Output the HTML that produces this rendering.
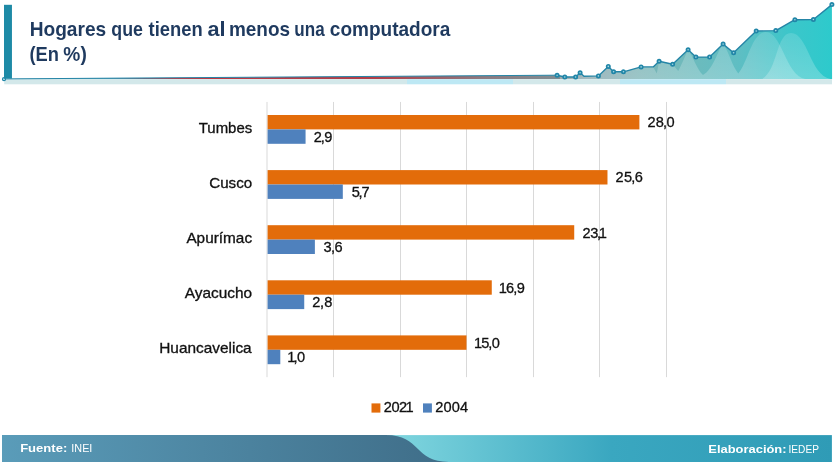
<!DOCTYPE html>
<html lang="es"><head><meta charset="utf-8"><title>Hogares que tienen al menos una computadora</title>
<style>
html,body{margin:0;padding:0;background:#fff;}
body{width:835px;height:465px;overflow:hidden;position:relative;font-family:"Liberation Sans",sans-serif;}
svg{position:absolute;left:0;top:0;display:block;}
svg text{font-family:"Liberation Sans",sans-serif;}
.t{font-weight:bold;font-size:20.4px;fill:#1f3a5f;}
.c{font-size:14.3px;fill:#111;stroke:#111;stroke-width:0.3px;}
.v{font-size:14.6px;fill:#111;stroke:#111;stroke-width:0.3px;}
.f{font-size:11.6px;fill:#fff;}
.fb{font-size:11.6px;fill:#fff;font-weight:bold;}
</style></head><body>
<svg width="835" height="465" viewBox="0 0 835 465">
<defs>
<linearGradient id="ga" x1="0" y1="0" x2="835" y2="0" gradientUnits="userSpaceOnUse">
<stop offset="0" stop-color="#3a8ca8"/>
<stop offset="0.13" stop-color="#3a8ca8"/>
<stop offset="0.21" stop-color="#c23540"/>
<stop offset="0.45" stop-color="#b03f49"/>
<stop offset="0.58" stop-color="#8d7a80"/>
<stop offset="0.67" stop-color="#7f8c92"/>
<stop offset="0.70" stop-color="#87a5ac"/>
<stop offset="0.725" stop-color="#82a8ae"/>
<stop offset="0.766" stop-color="#7cb4b6"/>
<stop offset="0.82" stop-color="#6fbabc"/>
<stop offset="0.884" stop-color="#5fbec3"/>
<stop offset="0.946" stop-color="#3cc6ca"/>
<stop offset="1" stop-color="#2ccacc"/>
</linearGradient>
<linearGradient id="fl" x1="2" y1="0" x2="450" y2="0" gradientUnits="userSpaceOnUse">
<stop offset="0" stop-color="#5a9cb9"/>
<stop offset="1" stop-color="#3f6d88"/>
</linearGradient>
<linearGradient id="fr" x1="390" y1="0" x2="833" y2="0" gradientUnits="userSpaceOnUse">
<stop offset="0" stop-color="#80d6df"/>
<stop offset="0.5" stop-color="#3aa7c0"/>
<stop offset="1" stop-color="#2f9bb6"/>
</linearGradient>
<linearGradient id="bl" x1="0" y1="30" x2="0" y2="79" gradientUnits="userSpaceOnUse">
<stop offset="0" stop-color="#fff" stop-opacity="0.13"/>
<stop offset="1" stop-color="#fff" stop-opacity="0.24"/>
</linearGradient>
</defs>
<rect x="4.2" y="79.1" width="402.8" height="5.2" fill="#d3e8ea"/>
<rect x="407" y="79.1" width="106" height="5.2" fill="#bde8f4"/>
<rect x="513" y="79.1" width="107" height="5.2" fill="#d3e8ea"/>
<rect x="620" y="79.1" width="106" height="5.2" fill="#bde8f4"/>
<rect x="726" y="79.1" width="106" height="5.2" fill="#d3e8ea"/>
<path d="M4 78.9 L557.1 75.2 L564.8 77 L575.6 77 L580.1 72.7 L584 76.3 L598.4 75.9 L608.3 66.4 L613.6 71.8 L623.5 71.8 L641.1 66.9 L653.2 66.9 L659.1 61.2 L672.6 64.2 L688.1 49.7 L695.9 57.1 L709.6 57.1 L723.1 44.1 L733.6 52.8 L756.2 31 L775.8 30.6 L794.9 19.7 L813.4 19.5 L831.9 4.6 L832.1 79.1 L4 79.1 Z" fill="url(#ga)"/>
<clipPath id="ca"><path d="M4 78.9 L557.1 75.2 L564.8 77 L575.6 77 L580.1 72.7 L584 76.3 L598.4 75.9 L608.3 66.4 L613.6 71.8 L623.5 71.8 L641.1 66.9 L653.2 66.9 L659.1 61.2 L672.6 64.2 L688.1 49.7 L695.9 57.1 L709.6 57.1 L723.1 44.1 L733.6 52.8 L756.2 31 L775.8 30.6 L794.9 19.7 L813.4 19.5 L831.9 4.6 L832.1 79.1 L4 79.1 Z"/></clipPath>
<g clip-path="url(#ca)">
<path d="M560 79.1 L560 40 L653.2 40 L653.2 66.9 L656.8 73.5 L659.1 61.2 L659.1 40 L672.6 40 L672.6 64.2 L678.2 71 C681 66 685 56 688.1 49.7 C693 56 697 70 703 75 C713 70 718 50 723.1 44.1 C729 52 732 66 738.3 73.5 C748 62 752 32 766 32 C782 32 786 77 806 79.1 Z" fill="url(#bl)"/>
<path d="M762 79.1 C778 70 776 33 791 33 C808 33 810 76 831 79.1 Z" fill="url(#bl)"/>
</g>
<path d="M4 78.9 L557.1 75.2" fill="none" stroke="#2585a6" stroke-width="1"/>
<path d="M557.1 75.2 L564.8 77 L575.6 77 L580.1 72.7 L584 76.3 L598.4 75.9 L608.3 66.4 L613.6 71.8 L623.5 71.8 L641.1 66.9 L653.2 66.9 L659.1 61.2 L672.6 64.2 L688.1 49.7 L695.9 57.1 L709.6 57.1 L723.1 44.1 L733.6 52.8 L756.2 31 L775.8 30.6 L794.9 19.7 L813.4 19.5 L831.9 4.6" fill="none" stroke="#2585a6" stroke-width="1.4" stroke-linejoin="round"/>
<circle cx="4" cy="79.2" r="1.5" fill="#bfe4ec" stroke="#2186a8" stroke-width="1.2"/>
<circle cx="557.1" cy="75.2" r="1.65" fill="#a9d9e4" stroke="#2186a8" stroke-width="1.7"/>
<circle cx="564.8" cy="77" r="1.65" fill="#a9d9e4" stroke="#2186a8" stroke-width="1.7"/>
<circle cx="575.6" cy="77" r="1.65" fill="#a9d9e4" stroke="#2186a8" stroke-width="1.7"/>
<circle cx="580.1" cy="72.7" r="1.65" fill="#a9d9e4" stroke="#2186a8" stroke-width="1.7"/>
<circle cx="598.4" cy="75.9" r="1.65" fill="#a9d9e4" stroke="#2186a8" stroke-width="1.7"/>
<circle cx="608.3" cy="66.4" r="1.65" fill="#a9d9e4" stroke="#2186a8" stroke-width="1.7"/>
<circle cx="613.6" cy="71.8" r="1.65" fill="#a9d9e4" stroke="#2186a8" stroke-width="1.7"/>
<circle cx="623.5" cy="71.8" r="1.65" fill="#a9d9e4" stroke="#2186a8" stroke-width="1.7"/>
<circle cx="641.1" cy="66.9" r="1.65" fill="#a9d9e4" stroke="#2186a8" stroke-width="1.7"/>
<circle cx="659.1" cy="61.2" r="1.65" fill="#a9d9e4" stroke="#2186a8" stroke-width="1.7"/>
<circle cx="672.6" cy="64.2" r="1.65" fill="#a9d9e4" stroke="#2186a8" stroke-width="1.7"/>
<circle cx="688.1" cy="49.7" r="1.65" fill="#a9d9e4" stroke="#2186a8" stroke-width="1.7"/>
<circle cx="695.9" cy="57.1" r="1.65" fill="#a9d9e4" stroke="#2186a8" stroke-width="1.7"/>
<circle cx="709.6" cy="57.1" r="1.65" fill="#a9d9e4" stroke="#2186a8" stroke-width="1.7"/>
<circle cx="723.1" cy="44.1" r="1.65" fill="#a9d9e4" stroke="#2186a8" stroke-width="1.7"/>
<circle cx="733.6" cy="52.8" r="1.65" fill="#a9d9e4" stroke="#2186a8" stroke-width="1.7"/>
<circle cx="756.2" cy="31" r="1.65" fill="#a9d9e4" stroke="#2186a8" stroke-width="1.7"/>
<circle cx="775.8" cy="30.6" r="1.65" fill="#a9d9e4" stroke="#2186a8" stroke-width="1.7"/>
<circle cx="794.9" cy="19.7" r="1.65" fill="#a9d9e4" stroke="#2186a8" stroke-width="1.7"/>
<circle cx="813.4" cy="19.5" r="1.65" fill="#a9d9e4" stroke="#2186a8" stroke-width="1.7"/>
<circle cx="831.9" cy="4.6" r="1.65" fill="#a9d9e4" stroke="#2186a8" stroke-width="1.7"/>
<rect x="4" y="4.8" width="7.95" height="73.8" fill="#1e8aa6"/>
<text class="t" y="36.30"><tspan x="29.63" textLength="76.56" lengthAdjust="spacingAndGlyphs">Hogares</tspan> <tspan x="111.35" textLength="31.62" lengthAdjust="spacingAndGlyphs">que</tspan> <tspan x="148.57" textLength="54.09" lengthAdjust="spacingAndGlyphs">tienen</tspan> <tspan x="207.57" textLength="18.04" lengthAdjust="spacingAndGlyphs">al</tspan> <tspan x="228.94" textLength="61.18" lengthAdjust="spacingAndGlyphs">menos</tspan> <tspan x="294.35" textLength="30.35" lengthAdjust="spacingAndGlyphs">una</tspan> <tspan x="329.80" textLength="120.51" lengthAdjust="spacingAndGlyphs">computadora</tspan></text>
<text class="t" y="61.20"><tspan x="29.50" textLength="29.52" lengthAdjust="spacingAndGlyphs">(En</tspan> <tspan x="63.33" textLength="23.44" lengthAdjust="spacingAndGlyphs">%)</tspan></text>
<rect x="266.5" y="101.95" width="1" height="275.2" fill="#d9d9d9"/>
<rect x="333" y="101.95" width="1" height="275.2" fill="#d9d9d9"/>
<rect x="400" y="101.95" width="1" height="275.2" fill="#d9d9d9"/>
<rect x="466" y="101.95" width="1" height="275.2" fill="#d9d9d9"/>
<rect x="533" y="101.95" width="1" height="275.2" fill="#d9d9d9"/>
<rect x="599" y="101.95" width="1" height="275.2" fill="#d9d9d9"/>
<rect x="666" y="101.95" width="1" height="275.2" fill="#d9d9d9"/>
<rect x="267.6" y="115.00" width="371.8" height="14.4" fill="#e36c0a"/>
<rect x="267.6" y="129.40" width="37.97" height="14.4" fill="#4f81bd"/>
<text class="c" x="198.74" y="133.00" textLength="53.52" lengthAdjust="spacingAndGlyphs">Tumbes</text>
<text class="v" x="647.45" y="127.30" dx="0.00 0.10 -0.90 -0.50">28,0</text>
<text class="v" x="313.75" y="141.80" dx="0.00 -1.07 -0.67">2,9</text>
<rect x="267.6" y="170.10" width="339.88" height="14.4" fill="#e36c0a"/>
<rect x="267.6" y="184.50" width="75.21" height="14.4" fill="#4f81bd"/>
<text class="c" x="209.21" y="188.10" textLength="42.96" lengthAdjust="spacingAndGlyphs">Cusco</text>
<text class="v" x="615.55" y="182.40" dx="0.00 0.20 -0.80 -0.40">25,6</text>
<text class="v" x="351.75" y="196.90" dx="0.00 -1.43 -1.03">5,7</text>
<rect x="267.6" y="225.20" width="306.63" height="14.4" fill="#e36c0a"/>
<rect x="267.6" y="239.60" width="47.28" height="14.4" fill="#4f81bd"/>
<text class="c" x="186.40" y="243.20" textLength="65.67" lengthAdjust="spacingAndGlyphs">Apurímac</text>
<text class="v" x="582.45" y="237.50" dx="0.00 -0.40 -1.40 -2.30">23,1</text>
<text class="v" x="323.50" y="252.00" dx="0.00 -0.75 -0.35">3,6</text>
<rect x="267.6" y="280.30" width="224.17" height="14.4" fill="#e36c0a"/>
<rect x="267.6" y="294.70" width="36.64" height="14.4" fill="#4f81bd"/>
<text class="c" x="184.80" y="298.30" textLength="67.37" lengthAdjust="spacingAndGlyphs">Ayacucho</text>
<text class="v" x="498.85" y="292.60" dx="0.00 -0.90 -1.00 -0.60">16,9</text>
<text class="v" x="312.15" y="307.10" dx="0.00 -0.27 0.13">2,8</text>
<rect x="267.6" y="335.40" width="198.9" height="14.4" fill="#e36c0a"/>
<rect x="267.6" y="349.80" width="12.7" height="14.4" fill="#4f81bd"/>
<text class="c" x="159.25" y="353.40" textLength="92.45" lengthAdjust="spacingAndGlyphs">Huancavelica</text>
<text class="v" x="473.95" y="347.70" dx="0.00 -0.90 -1.00 -0.60">15,0</text>
<text class="v" x="287.35" y="362.20" dx="0.00 -1.90 -0.60">1,0</text>
<rect x="371.5" y="403.4" width="8.9" height="9.2" fill="#e36c0a"/>
<text class="v" x="383.65" y="412.00" dx="0.00 -0.40 -0.40 -1.70">2021</text>
<rect x="423" y="403.4" width="8.9" height="9.2" fill="#4f81bd"/>
<text class="v" x="435.15" y="412.00" dx="0.00 0.12 0.12 0.12">2004</text>
<rect x="388" y="435.1" width="443.9" height="26.9" fill="url(#fr)"/>
<path d="M2 435.1 L386 435.1 C421 435.1 414 462 449 462 L2 462 Z" fill="url(#fl)"/>
<text class="fb" x="20.16" y="451.70" textLength="47.11" lengthAdjust="spacingAndGlyphs">Fuente:</text>
<text class="f" x="71.37" y="451.70" textLength="21.02" lengthAdjust="spacingAndGlyphs">INEI</text>
<text class="fb" x="708.36" y="453.00" textLength="78.21" lengthAdjust="spacingAndGlyphs">Elaboración:</text>
<text class="f" x="788.52" y="453.00" textLength="30.45" lengthAdjust="spacingAndGlyphs">IEDEP</text>
</svg></body></html>
